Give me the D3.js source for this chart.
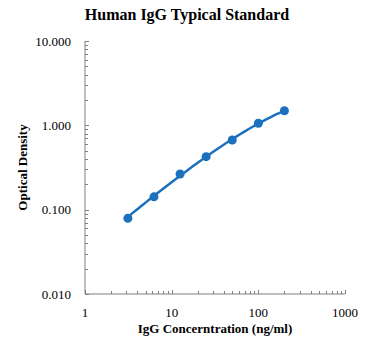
<!DOCTYPE html>
<html>
<head>
<meta charset="utf-8">
<script src="https://cdn.jsdelivr.net/npm/d3@7"></script>
<style>
  body { margin: 0; background: #fff; }
  text { font-family: "Liberation Serif", "Times New Roman", serif; }
</style>
</head>
<body>
<svg id="chart"></svg>
<script>
// data
const concentrations = [3.125, 6.25, 12.5, 25, 50, 100, 200];
const odValues = [0.079, 0.142, 0.265, 0.425, 0.67, 1.06, 1.49];
const xTickValues = [1, 10, 100, 1000];
const yTickValues = [0.01, 0.1, 1, 10];

const width = 372, height = 351;
const margin = { top: 41, right: 27, bottom: 57, left: 86 };

const svg = d3.select("#chart").attr("width", width).attr("height", height);

const x = d3.scaleLog().domain([1, 1000]).range([margin.left - 1, width - margin.right]);
const y = d3.scaleLog().domain([0.01, 10]).range([height - margin.bottom, margin.top]);

const blue = "#1c70bd";
const axisGrey = "#808080";

// minor ticks for each decade
function minorTicks(lo, hi) {
  const out = [];
  for (let p = lo; p < hi; p *= 10)
    for (let k = 2; k <= 9; k++) out.push(p * k);
  return out;
}

// x axis
const gx = svg.append("g").attr("transform", `translate(0,${y(0.01)})`);
gx.append("line").attr("x1", x(1)).attr("x2", x(1000)).attr("stroke", axisGrey);
gx.selectAll("line.minor").data(minorTicks(1, 1000)).join("line")
  .attr("class", "minor")
  .attr("x1", d => Math.round(x(d)) + 0.5).attr("x2", d => Math.round(x(d)) + 0.5)
  .attr("y1", 0).attr("y2", -3).attr("stroke", axisGrey);
gx.selectAll("line.major").data(xTickValues).join("line")
  .attr("class", "major")
  .attr("x1", d => Math.round(x(d)) + 0.5).attr("x2", d => Math.round(x(d)) + 0.5)
  .attr("y1", 0).attr("y2", -4).attr("stroke", axisGrey);
gx.selectAll("text").data(xTickValues).join("text")
  .attr("x", d => x(d)).attr("y", 23)
  .attr("text-anchor", "middle").attr("font-size", "13px")
  .text(d => d);

// y axis
const gy = svg.append("g").attr("transform", `translate(${x(1)},0)`);
gy.append("line").attr("y1", y(0.01)).attr("y2", y(10)).attr("stroke", axisGrey);
gy.selectAll("line.minor").data(minorTicks(0.01, 10)).join("line")
  .attr("class", "minor")
  .attr("y1", d => Math.round(y(d)) + 0.5).attr("y2", d => Math.round(y(d)) + 0.5)
  .attr("x1", 0).attr("x2", 3).attr("stroke", axisGrey);
gy.selectAll("line.major").data(yTickValues).join("line")
  .attr("class", "major")
  .attr("y1", d => Math.round(y(d)) + 0.5).attr("y2", d => Math.round(y(d)) + 0.5)
  .attr("x1", 0).attr("x2", 4).attr("stroke", axisGrey);
gy.selectAll("text").data(yTickValues).join("text")
  .attr("x", -14).attr("y", d => y(d)).attr("dy", "0.35em")
  .attr("text-anchor", "end").attr("font-size", "13px")
  .text(d => d3.format(".3f")(d));

// standard curve: 4-parameter logistic, least squares on OD (Nelder-Mead)
const fourPL = (p, c) => p[3] + (p[0] - p[3]) / (1 + Math.pow(c / p[2], p[1]));
const sse = p => {
  if (p[2] <= 0) return Infinity;
  return d3.sum(concentrations, (c, i) => (odValues[i] - fourPL(p, c)) ** 2);
};
function nelderMead(f, start, steps, iters) {
  let simplex = [start.slice()];
  start.forEach((v, i) => { const q = start.slice(); q[i] += steps[i]; simplex.push(q); });
  let vals = simplex.map(f);
  for (let it = 0; it < iters; it++) {
    const idx = d3.range(simplex.length).sort((a, b) => vals[a] - vals[b]);
    simplex = idx.map(i => simplex[i]); vals = idx.map(i => vals[i]);
    const n = start.length;
    const cen = d3.range(n).map(j => d3.mean(simplex.slice(0, n), s => s[j]));
    const worst = simplex[n];
    const pt = k => cen.map((v, j) => v + k * (worst[j] - v));
    const r = pt(-1), fr = f(r);
    if (fr < vals[0]) {
      const e = pt(-2), fe = f(e);
      if (fe < fr) { simplex[n] = e; vals[n] = fe; } else { simplex[n] = r; vals[n] = fr; }
    } else if (fr < vals[n - 1]) {
      simplex[n] = r; vals[n] = fr;
    } else {
      const k = pt(0.5), fk = f(k);
      if (fk < vals[n]) { simplex[n] = k; vals[n] = fk; }
      else {
        for (let i = 1; i <= n; i++) {
          simplex[i] = simplex[i].map((v, j) => simplex[0][j] + 0.5 * (v - simplex[0][j]));
          vals[i] = f(simplex[i]);
        }
      }
    }
  }
  return simplex[d3.minIndex(vals)];
}
const params = nelderMead(sse, [0.02, 1, 100, 3], [0.02, 0.3, 50, 1], 4000);

const [cMin, cMax] = d3.extent(concentrations);
const curve = d3.range(0, 61).map(i => cMin * Math.pow(cMax / cMin, i / 60));

svg.append("path")
  .datum(curve)
  .attr("d", d3.line().x(d => x(d)).y(d => y(fourPL(params, d))))
  .attr("fill", "none").attr("stroke", blue).attr("stroke-width", 2.5);

svg.selectAll("circle").data(concentrations).join("circle")
  .attr("cx", d => x(d)).attr("cy", (d, i) => y(odValues[i]))
  .attr("r", 4.5).attr("fill", blue);

// titles
svg.append("text").attr("x", 187).attr("y", 20)
  .attr("text-anchor", "middle").attr("font-size", "16px").attr("font-weight", "bold")
  .text("Human IgG Typical Standard");
svg.append("text").attr("x", 215).attr("y", 333)
  .attr("text-anchor", "middle").attr("font-size", "13px").attr("font-weight", "bold")
  .text("IgG Concerntration (ng/ml)");
svg.append("text").attr("transform", `translate(27,${(y(0.01) + y(10)) / 2}) rotate(-90)`)
  .attr("text-anchor", "middle").attr("font-size", "13px").attr("font-weight", "bold")
  .text("Optical Density");
</script>
</body>
</html>
